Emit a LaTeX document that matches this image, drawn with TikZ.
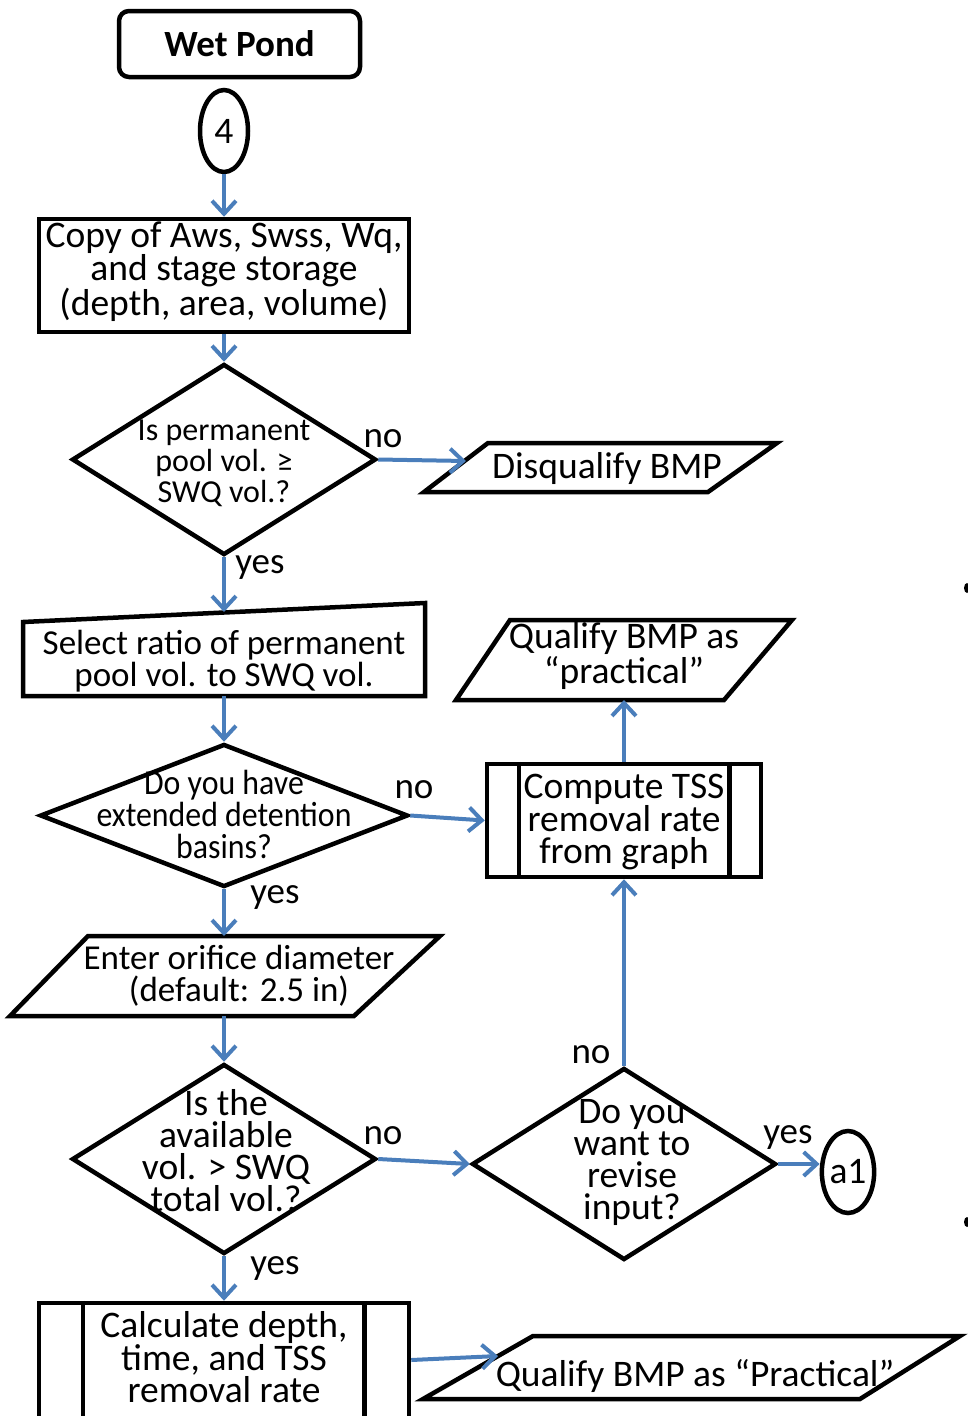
\documentclass[tikz,border=0pt]{standalone}
\usepackage{fontspec}
\setmainfont{Carlito}
\newfontfamily\narrowfont{Carlito}[FakeStretch=0.91]
\usetikzlibrary{shapes.geometric,arrows.meta}
\definecolor{flowblue}{RGB}{74,126,187}

\begin{document}
\begin{tikzpicture}[x=1pt,y=-1pt,
  shapeline/.style={draw=black,line width=4.5pt,line join=miter},
  txt/.style={align=center,inner sep=0pt,font=\fontsize{37.5}{32}\selectfont},
  inputtxt/.style={align=center,inner sep=0pt,font=\fontsize{35}{32}\selectfont},
  smalltxt/.style={align=center,inner sep=0pt,font=\fontsize{32}{31}\selectfont},
  narrowtxt/.style={align=center,inner sep=0pt,font=\narrowfont\fontsize{35}{32}\selectfont},
  lbl/.style={inner sep=0pt,anchor=base,font=\fontsize{37}{32}\selectfont},
  decision/.style={shapeline,diamond,inner sep=0pt},
  flow/.style={draw=flowblue,line width=4pt,-{Straight Barb[length=13pt,width=24pt]}},
]
\useasboundingbox (0,0) rectangle (968,1416);
\clip (0,0) rectangle (968,1416);

% start terminal and connector
\node[shapeline,rounded corners=10pt,minimum width=241pt,minimum height=66pt,inner sep=0pt,
      font=\bfseries\fontsize{37}{32}\selectfont] (wet) at (239.5,44) {Wet Pond};
\node[shapeline,ellipse,minimum width=48pt,minimum height=82pt,txt] (c4) at (224,131) {4};

% data copy
\node[shapeline,minimum width=370pt,minimum height=113pt,inner sep=0pt] (copy) at (224,275.5) {};
\node[txt] (copyt) at (224,272) {Copy of Aws, Swss, Wq,\\and stage storage\\(depth, area, volume)};

% first decision
\node[decision,minimum width=304pt,minimum height=191pt] (d1) at (224,459.5) {};
\node[smalltxt] (d1t) at (224,463) {Is permanent\\pool vol. ≥\\SWQ vol.?};

% disqualify output
\draw[shapeline] (424,492) -- (488,443) -- (777,443) -- (708,492) -- cycle;
\node[txt] (disq) at (607,468) {Disqualify BMP};
\coordinate (disqin) at (466,461);

% manual input: ratio
\draw[shapeline] (23,622) -- (425,603) -- (425,696) -- (23,696) -- cycle;
\node[inputtxt] (sel) at (224,661) {Select ratio of permanent\\pool vol. to SWQ vol.};
\coordinate (selin) at (224,612);
\coordinate (selout) at (224,696);

% second decision
\node[decision,minimum width=368pt,minimum height=143pt] (d2) at (224,815.5) {};
\node[narrowtxt] (d2t) at (224,814) {Do you have\\extended detention\\basins?};

% predefined process: TSS from graph
\node[shapeline,minimum width=274pt,minimum height=113pt,inner sep=0pt] (tss) at (624,820.5) {};
\draw[shapeline] ([xshift=34pt]tss.north west) -- ([xshift=34pt]tss.south west)
                 ([xshift=-34pt]tss.north east) -- ([xshift=-34pt]tss.south east);
\node[txt] (tsst) at (624,822) {Compute TSS\\removal rate\\from graph};

% qualify output (upper)
\draw[shapeline] (456,700) -- (510,620) -- (792,620) -- (724,700) -- cycle;
\node[txt] (q1) at (624,656) {Qualify BMP as\\“practical”};
\coordinate (q1in) at (624,700);

% orifice input
\draw[shapeline] (10,1016) -- (88,936) -- (440,936) -- (354,1016) -- cycle;
\node[inputtxt] (ori) at (239,976) {Enter orifice diameter\\(default: 2.5 in)};
\coordinate (oriin) at (224,936);
\coordinate (oriout) at (224,1016);

% third decision
\node[decision,minimum width=304pt,minimum height=190pt] (d3) at (224,1159) {};
\node[txt] (d3t) at (226,1151) {Is the\\available\\vol. > SWQ\\total vol.?};

% fourth decision
\node[decision,minimum width=304pt,minimum height=192pt] (d4) at (624,1164) {};
\node[txt] (d4t) at (632,1162) {Do you\\want to\\revise\\input?};

% off-page connector
\node[shapeline,ellipse,minimum width=50pt,minimum height=82pt,txt] (a1) at (848,1172) {a1};

% predefined process: calculation
\node[shapeline,minimum width=370pt,minimum height=137pt,inner sep=0pt] (calc) at (224,1371.5) {};
\draw[shapeline] ([xshift=46pt]calc.north west) -- ([xshift=46pt]calc.south west)
                 ([xshift=-47pt]calc.north east) -- ([xshift=-47pt]calc.south east);
\node[txt] (calct) at (224,1357) {Calculate depth,\\time, and TSS\\removal rate};

% qualify output (lower)
\draw[shapeline] (423,1399) -- (533,1336) -- (960,1336) -- (860,1399) -- cycle;
\node[txt] (q2) at (695,1376) {Qualify BMP as “Practical”};
\coordinate (q2in) at (498,1356);

% connectors
\draw[flow] (c4) -- (copy);
\draw[flow] (copy) -- (d1);
\draw[flow] (d1.east) -- (disqin);
\draw[flow] (d1.south) -- (selin);
\draw[flow] (selout) -- (d2.north);
\draw[flow] (d2.east) -- (tss.west);
\draw[flow] (tss.north) -- (q1in);
\draw[flow] (d2.south) -- (oriin);
\draw[flow] (oriout) -- (d3.north);
\draw[flow] (d3.east) -- (d4.west);
\draw[flow] (d4.north) -- (tss.south);
\draw[flow] (d4.east) -- (d4.east -| a1.west);
\draw[flow] (d3.south) -- (calc.north);
\draw[flow] (calc.east |- 0,1360) -- (q2in);

% branch labels
\node[lbl] (no1) at (383,447) {no};
\node[lbl] (yes1) at (260,573) {yes};
\node[lbl] (no2) at (414,798) {no};
\node[lbl] (yes2) at (275,903) {yes};
\node[lbl] (no3) at (383,1144) {no};
\node[lbl] (no4) at (591,1063) {no};
\node[lbl] (yes3) at (788,1143) {yes};
\node[lbl] (yes4) at (275,1274) {yes};

% marks at the right margin
\fill (967,588) ellipse [x radius=3pt, y radius=5pt];
\fill (967,1222) ellipse [x radius=3pt, y radius=5pt];
\end{tikzpicture}
\end{document}
